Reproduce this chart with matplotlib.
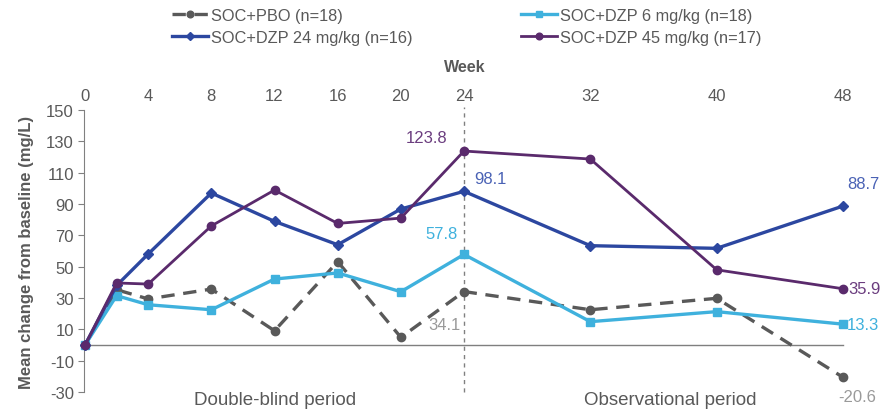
import matplotlib.pyplot as plt

plt.rcParams['font.family'] = ['Liberation Sans', 'DejaVu Sans']
plt.rcParams['axes.unicode_minus'] = False

# weeks of assessment
weeks = [0, 2, 4, 8, 12, 16, 20, 24, 32, 40, 48]
week_ticks = [0, 4, 8, 12, 16, 20, 24, 32, 40, 48]
y_ticks = [-30, -10, 10, 30, 50, 70, 90, 110, 130, 150]

# mean change from baseline (mg/L)
pbo = [0, 35.3, 29.4, 35.7, 9.1, 53.2, 4.9, 34.1, 22.5, 29.8, -20.6]
dzp6 = [0, 31.5, 25.7, 22.5, 42.1, 46.0, 34.0, 57.8, 14.9, 21.3, 13.3]
dzp24 = [0, 38.0, 58.1, 97.0, 78.9, 64.0, 86.8, 98.1, 63.4, 61.7, 88.7]
dzp45 = [0, 39.6, 38.9, 76.0, 98.9, 77.6, 81.0, 123.8, 118.7, 48.0, 35.9]

GRAY = "#595959"
LIGHT = "#3fb1dd"
BLUE = "#2c47a0"
PURPLE = "#5a2a6c"
FS = 12

fig = plt.figure(figsize=(8.82, 4.14), dpi=100)
ax = fig.add_axes([0.0964, 0.0507, 0.8594, 0.6812])

l_pbo, = ax.plot(weeks, pbo, color=GRAY, lw=2.4, ls=(0, (4, 2.6)), marker="o",
                 ms=6, label="SOC+PBO (n=18)", clip_on=False, zorder=3)
l_6, = ax.plot(weeks, dzp6, color=LIGHT, lw=2.4, marker="s", ms=5.5,
               label="SOC+DZP 6 mg/kg (n=18)", clip_on=False, zorder=4)
l_24, = ax.plot(weeks, dzp24, color=BLUE, lw=2.4, marker="D", ms=5.5,
                label="SOC+DZP 24 mg/kg (n=16)", clip_on=False, zorder=5)
l_45, = ax.plot(weeks, dzp45, color=PURPLE, lw=2.0, marker="o", ms=6,
                label="SOC+DZP 45 mg/kg (n=17)", clip_on=False, zorder=6)

ax.set_xlim(0, 48)
ax.set_ylim(-30, 150)

# baseline and end of double-blind period
ax.plot([0, 48], [0, 0], color="#7f7f7f", lw=1.0, zorder=1, clip_on=False)
ax.plot([24, 24], [-30, 152], color="#808080", lw=1.0, ls=(0, (3, 3)),
        zorder=2, clip_on=False)

ax.xaxis.tick_top()
ax.set_xticks(week_ticks)
ax.tick_params(axis="x", length=0, pad=5, labelsize=FS, labelcolor=GRAY)
ax.set_yticks(y_ticks)
ax.tick_params(axis="y", length=4, color="#808080", labelsize=FS,
               labelcolor=GRAY, pad=3)
for side in ("top", "right", "bottom"):
    ax.spines[side].set_visible(False)
ax.spines["left"].set_color("#808080")
ax.spines["left"].set_position(("outward", 1))

ax.set_ylabel("Mean change from baseline (mg/L)", fontsize=12, fontweight="bold",
              color=GRAY, labelpad=9)
fig.text(465 / 882, 1 - 68 / 414, "Week", ha="center", va="center",
         fontsize=11.5, fontweight="bold", color=GRAY)

# value labels
ann = dict(textcoords="offset points", fontsize=FS)
ax.annotate(f"{dzp45[7]}", (24, dzp45[7]), xytext=(-27, 10), ha="center",
            va="center", color="#6b3d7f", **ann)
ax.annotate(f"{dzp24[7]}", (24, dzp24[7]), xytext=(19, 9), ha="center",
            va="center", color="#4a62b5", **ann)
ax.annotate(f"{dzp6[7]}", (24, dzp6[7]), xytext=(-16, 15), ha="center",
            va="center", color=LIGHT, **ann)
ax.annotate(f"{pbo[7]}", (24, pbo[7]), xytext=(-14, -24), ha="center",
            va="center", color="#9a9a9a", **ann)
ax.annotate(f"{dzp24[-1]}", (48, dzp24[-1]), xytext=(15, 16), ha="center",
            va="center", color="#4a62b5", **ann)
ax.annotate(f"{dzp45[-1]}", (48, dzp45[-1]), xytext=(4, 0), ha="left",
            va="center", color="#6b3d7f", **ann)
ax.annotate(f"{dzp6[-1]}", (48, dzp6[-1]), xytext=(3, 0), ha="left",
            va="center", color=LIGHT, **ann)
ax.annotate(f"{pbo[-1]}", (48, pbo[-1]), xytext=(10, -14), ha="center",
            va="center", color="#9a9a9a", **ann)

# period labels
fig.text(275 / 882, 1 - 401 / 414, "Double-blind period", ha="center",
         va="center", fontsize=13.5, color=GRAY)
fig.text(670 / 882, 1 - 401 / 414, "Observational period", ha="center",
         va="center", fontsize=13.5, color=GRAY)

fig.legend(handles=[l_pbo, l_24, l_6, l_45], ncol=2, loc="upper left",
           bbox_to_anchor=(157 / 882, 1.015), frameon=False, fontsize=11.8,
           handlelength=2.2, handletextpad=0.2, columnspacing=6.6,
           labelspacing=0.45, markerscale=0.8, labelcolor=GRAY)

fig.savefig("out.png", dpi=100)
